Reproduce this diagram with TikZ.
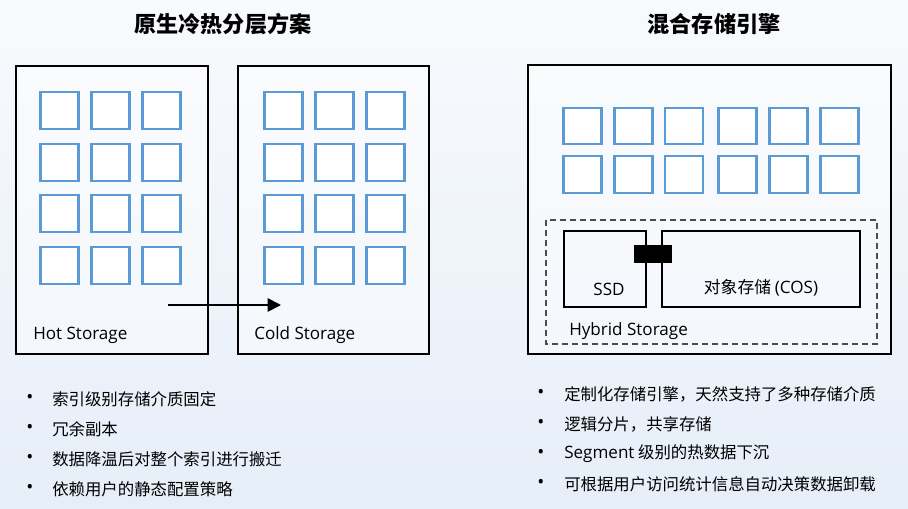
\documentclass[tikz,border=0pt]{standalone}
\usepackage{fontspec}
\setmainfont{Noto Sans CJK SC}
\newfontfamily\lat{Open Sans}
\usetikzlibrary{arrows.meta}
\definecolor{sqblue}{HTML}{5B9BD5}
\definecolor{bgtop}{HTML}{F8FAFD}
\definecolor{bgbot}{HTML}{E6EEF8}
\tikzset{
  panel/.style={draw=black, line width=0.9pt, fill=white, fill opacity=0.45, text opacity=1},
  sq/.style={draw=sqblue, line width=1.6pt, fill=white, inner sep=0pt, minimum width=28.5pt, minimum height=27.5pt},
  lbl/.style={font=\fontsize{12.8pt}{14pt}\selectfont\lat, anchor=west, inner sep=0pt},
  ttl/.style={font=\fontsize{16.6pt}{18pt}\selectfont\bfseries, inner sep=0pt},
  blt/.style={font=\fontsize{12.3pt}{14pt}\selectfont, anchor=west, inner sep=0pt},
  dot/.style={font=\fontsize{14pt}{14pt}\selectfont\lat, inner sep=0pt}
}
\begin{document}
\begin{tikzpicture}[x=0.75pt,y=-0.75pt]
\useasboundingbox (0,0) rectangle (908,508);
\shade[top color=bgtop, bottom color=bgbot] (0,0) rectangle (908,508);

% titles
\node[ttl] (t1) at (223,24) {原生冷热分层方案};
\node[ttl] (t2) at (714,24) {混合存储引擎};

% panels
\draw[panel] (16,66) rectangle (208,354);
\draw[panel] (238,66) rectangle (429,354);
\draw[panel] (528,65) rectangle (891,354);

% hot squares
\foreach \cx [count=\i] in {59.5,110.5,161.5}{
  \foreach \cy [count=\j] in {110.5,162.5,213.5,265.5}{
    \node[sq] (h\i\j) at (\cx,\cy) {};
  }
}
% cold squares
\foreach \cx [count=\i] in {283.5,334.5,385.5}{
  \foreach \cy [count=\j] in {110.5,162.5,213.5,265.5}{
    \node[sq] (c\i\j) at (\cx,\cy) {};
  }
}
% hybrid squares
\foreach \cx [count=\i] in {582.5,633.5,684,737.5,788.5,839.5}{
  \foreach \cy [count=\j] in {126,174.5}{
    \node[sq] (m\i\j) at (\cx,\cy) {};
  }
}

\node[lbl] (hot) at (33,335) {Hot Storage};
\node[lbl] (cold) at (254,335) {Cold Storage};

\coordinate (a1) at (168,305);
\coordinate (a2) at (281,305);
\draw[line width=1.3pt, -{Triangle[length=10pt,width=10pt]}] (a1) -- (a2);

% hybrid storage
\draw[dashed, draw=black!70, line width=0.9pt, dash pattern=on 4.5pt off 3pt] (546,220) rectangle (877,344);
\node[draw=black, line width=1.1pt, minimum width=61.5pt, minimum height=57pt, inner sep=0pt] (ssd) at (605,269) {};
\node[draw=black, line width=1.1pt, minimum width=148.5pt, minimum height=57pt, inner sep=0pt] (cos) at (761,269) {};
\node[fill=black, minimum width=28.5pt, minimum height=13.5pt, inner sep=0pt] (link) at (653,254) {};
\node[font=\fontsize{12.8pt}{14pt}\selectfont\lat, inner sep=0pt] (ssdt) at (609,289) {SSD};
\node[font=\fontsize{12.6pt}{14pt}\selectfont, inner sep=0pt] (cost) at (761,288) {对象存储 {\fontsize{12.8pt}{14pt}\selectfont\lat (COS)}};
\node[lbl] (hyb) at (569,331) {Hybrid Storage};

% bullets left
\foreach \y/\t [count=\k] in {399/索引级别存储介质固定, 429/冗余副本, 459/数据降温后对整个索引进行搬迁, 489/依赖用户的静态配置策略}{
  \node[dot] (lb\k) at (30,\y) {•};
  \node[blt] (lt\k) at (52,\y) {\t};
}
% bullets right
\foreach \y/\t [count=\k] in {394/定制化存储引擎，天然支持了多种存储介质, 424/逻辑分片，共享存储, 454/{{\fontsize{12.8pt}{14pt}\selectfont\lat Segment} 级别的热数据下沉}, 484/可根据用户访问统计信息自动决策数据卸载}{
  \node[dot] (rb\k) at (541,\y) {•};
  \node[blt] (rt\k) at (564,\y) {\t};
}
\end{tikzpicture}
\end{document}
